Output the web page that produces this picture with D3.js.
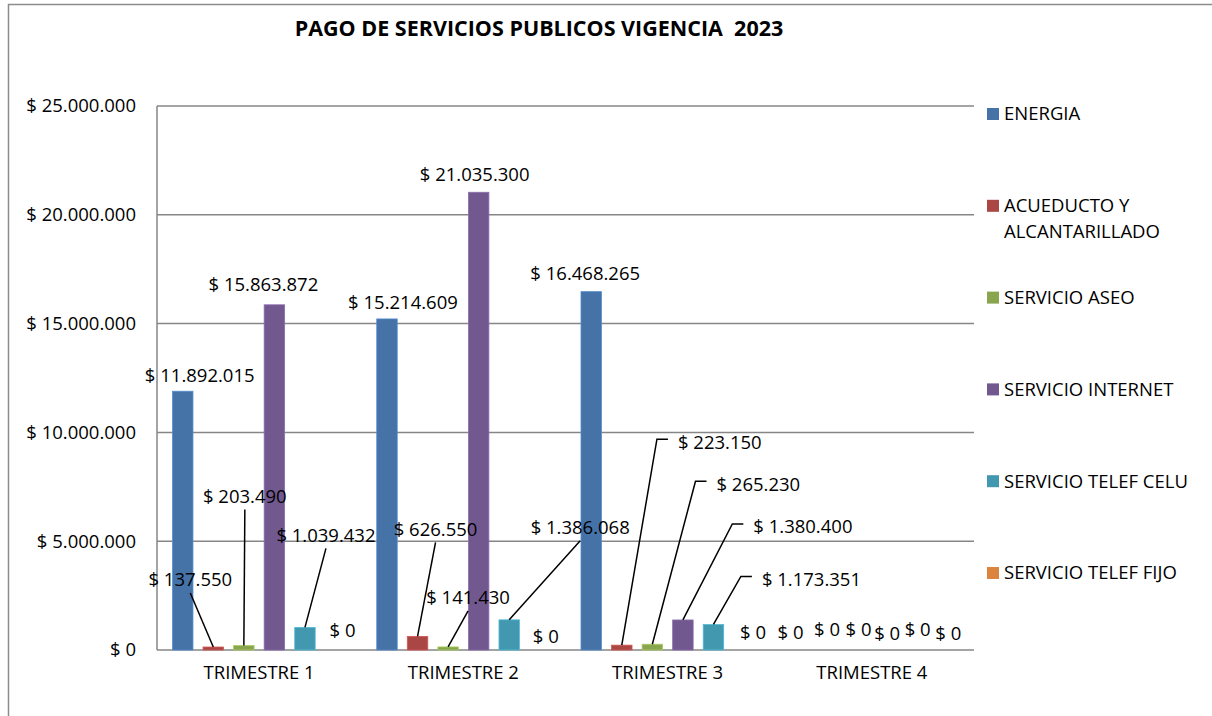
<!DOCTYPE html>
<html>
<head>
<meta charset="utf-8">
<script src="https://cdn.jsdelivr.net/npm/d3@7"></script>
<style>
  body { margin: 0; background: #fff; }
  text { font-family: "Open Sans", Lato, sans-serif; fill: #000; }
</style>
</head>
<body>
<svg id="chart"></svg>
<script>
const quarters = ["TRIMESTRE 1", "TRIMESTRE 2", "TRIMESTRE 3", "TRIMESTRE 4"];
const services = [
  "ENERGIA",
  "ACUEDUCTO Y ALCANTARILLADO",
  "SERVICIO ASEO",
  "SERVICIO INTERNET",
  "SERVICIO TELEF CELU",
  "SERVICIO TELEF FIJO",
];
const energia = [11892015, 15214609, 16468265, 0];
const acueducto = [137550, 626550, 223150, 0];
const aseo = [203490, 141430, 265230, 0];
const internet = [15863872, 21035300, 1380400, 0];
const telefCelu = [1039432, 1386068, 1173351, 0];
const telefFijo = [0, 0, 0, 0];
const yTicks = [0, 5000000, 10000000, 15000000, 20000000, 25000000];

const seriesValues = [energia, acueducto, aseo, internet, telefCelu, telefFijo];
const colors = ["#4572A7", "#AA4643", "#89A54E", "#71588F", "#4198AF", "#DB843D"];

// label placement relative to bar top centre: [dx, dy, leader] (0 none, 1 straight, 2 elbow)
const labelLayout = [
  [[17, -16, 0], [16, -16, 0], [-6, -18, 0], [-5, -17, 0]],
  [[-23, -67, 1], [18, -107, 1], [98, -203, 2], [1, -20, 0]],
  [[1, -149, 1], [20, -49, 1], [106, -160, 2], [2, -20, 0]],
  [[-11, -20, 0], [-4, -18, 0], [120, -93, 2], [0, -16, 0]],
  [[21, -92, 1], [71, -92, 1], [98, -45, 2], [0, -20, 0]],
  [[7, -19, 0], [6, -13, 0], [9, -17, 0], [0, -16, 0]],
];

const width = 1212;
const height = 716;
const plot = { left: 157, right: 974, top: 106, bottom: 650 };
const fontSize = "18.5px";

const locale = d3.formatLocale({
  decimal: ",",
  thousands: ".",
  grouping: [3],
  currency: ["$ ", ""],
});
const money = locale.format("$,.0f");

const svg = d3.select("#chart").attr("width", width).attr("height", height);

// outer chart frame
svg.append("path")
  .attr("d", `M8.5,${height} V4.5 H${width}`)
  .attr("fill", "none")
  .attr("stroke", "#8c8c8c")
  .attr("stroke-width", 1.5);

svg.append("text")
  .attr("x", 539)
  .attr("y", 36)
  .attr("text-anchor", "middle")
  .style("font-size", "21.5px")
  .style("font-weight", "bold")
  .style("white-space", "pre")
  .text("PAGO DE SERVICIOS PUBLICOS VIGENCIA  2023");

const x0 = d3.scaleBand().domain(quarters).range([plot.left, plot.right]);
const x1 = d3.scaleBand()
  .domain(d3.range(services.length))
  .range([15.5, x0.bandwidth() - 15.5])
  .paddingInner(0.33);
const y = d3.scaleLinear().domain([0, 25000000]).range([plot.bottom, plot.top]);

// gridlines
svg.append("g")
  .selectAll("line")
  .data(yTicks)
  .join("line")
  .attr("x1", plot.left)
  .attr("x2", plot.right)
  .attr("y1", (d) => y(d))
  .attr("y2", (d) => y(d))
  .attr("stroke", "#868686")
  .attr("stroke-width", 1.5);

svg.append("line")
  .attr("x1", plot.left)
  .attr("x2", plot.left)
  .attr("y1", plot.top)
  .attr("y2", plot.bottom)
  .attr("stroke", "#868686")
  .attr("stroke-width", 1.5);

// y axis labels
const yAxis = svg.append("g")
  .attr("transform", `translate(${plot.left - 21},0)`)
  .call(d3.axisLeft(y).tickValues(yTicks).tickFormat(money).tickSize(0).tickPadding(0));
yAxis.select(".domain").remove();
yAxis.selectAll("text")
  .style("font-size", fontSize)
  .style("font-family", "'Open Sans', Lato, sans-serif")
  .attr("fill", "#000");

// x axis labels
const xAxis = svg.append("g")
  .attr("transform", `translate(0,${plot.bottom + 16})`)
  .call(d3.axisBottom(x0).tickSize(0).tickPadding(0));
xAxis.select(".domain").remove();
xAxis.selectAll("text")
  .style("font-size", fontSize)
  .style("font-family", "'Open Sans', Lato, sans-serif")
  .attr("fill", "#000");

// bars
const groups = svg.append("g")
  .selectAll("g")
  .data(quarters)
  .join("g")
  .attr("transform", (q) => `translate(${x0(q)},0)`);

groups.selectAll("rect")
  .data((q, qi) => seriesValues.map((vals, si) => ({ si, v: vals[qi] })))
  .join("rect")
  .attr("x", (d) => x1(d.si))
  .attr("width", x1.bandwidth())
  .attr("y", (d) => y(d.v))
  .attr("height", (d) => plot.bottom - y(d.v))
  .attr("fill", (d) => colors[d.si])
  .attr("stroke", (d) => d3.color(colors[d.si]).brighter(0.6))
  .attr("stroke-width", 0.8);

// data labels with leader lines
const labels = svg.append("g");
quarters.forEach((q, qi) => {
  seriesValues.forEach((vals, si) => {
    const v = vals[qi];
    const [dx, dy, leader] = labelLayout[si][qi];
    const bx = x0(q) + x1(si) + x1.bandwidth() / 2;
    const by = y(v);
    const cx = bx + dx;
    const cy = by + dy;
    const t = labels.append("text")
      .attr("x", cx)
      .attr("y", cy)
      .attr("dy", "0.35em")
      .attr("text-anchor", "middle")
      .style("font-size", fontSize)
      .text(money(v));
    const w = t.node().getComputedTextLength();
    if (leader === 1) {
      labels.append("line")
        .attr("x1", cx).attr("y1", cy + 13)
        .attr("x2", bx).attr("y2", by)
        .attr("stroke", "#000").attr("stroke-width", 1.5);
    } else if (leader === 2) {
      const lx = cx - w / 2;
      labels.append("polyline")
        .attr("points", `${bx},${by} ${lx - 21},${cy - 3} ${lx - 10},${cy - 3}`)
        .attr("fill", "none")
        .attr("stroke", "#000").attr("stroke-width", 1.5);
    }
  });
});

// legend
const legend = svg.append("g").attr("transform", "translate(987,0)");
const legendItems = legend.selectAll("g")
  .data(services)
  .join("g")
  .attr("transform", (d, i) => `translate(0,${114 + i * 91.8})`);

legendItems.append("rect")
  .attr("x", 0)
  .attr("y", -6)
  .attr("width", 12)
  .attr("height", 12)
  .attr("fill", (d, i) => colors[i]);

legendItems.append("text")
  .attr("x", 17)
  .attr("y", 0)
  .style("font-size", fontSize)
  .each(function (d) {
    const parts = d === "ACUEDUCTO Y ALCANTARILLADO" ? ["ACUEDUCTO Y", "ALCANTARILLADO"] : [d];
    d3.select(this)
      .selectAll("tspan")
      .data(parts)
      .join("tspan")
      .attr("x", 17)
      .attr("dy", (p, i) => (i === 0 ? "0.35em" : "26px"))
      .text((p) => p);
  });
</script>
</body>
</html>
